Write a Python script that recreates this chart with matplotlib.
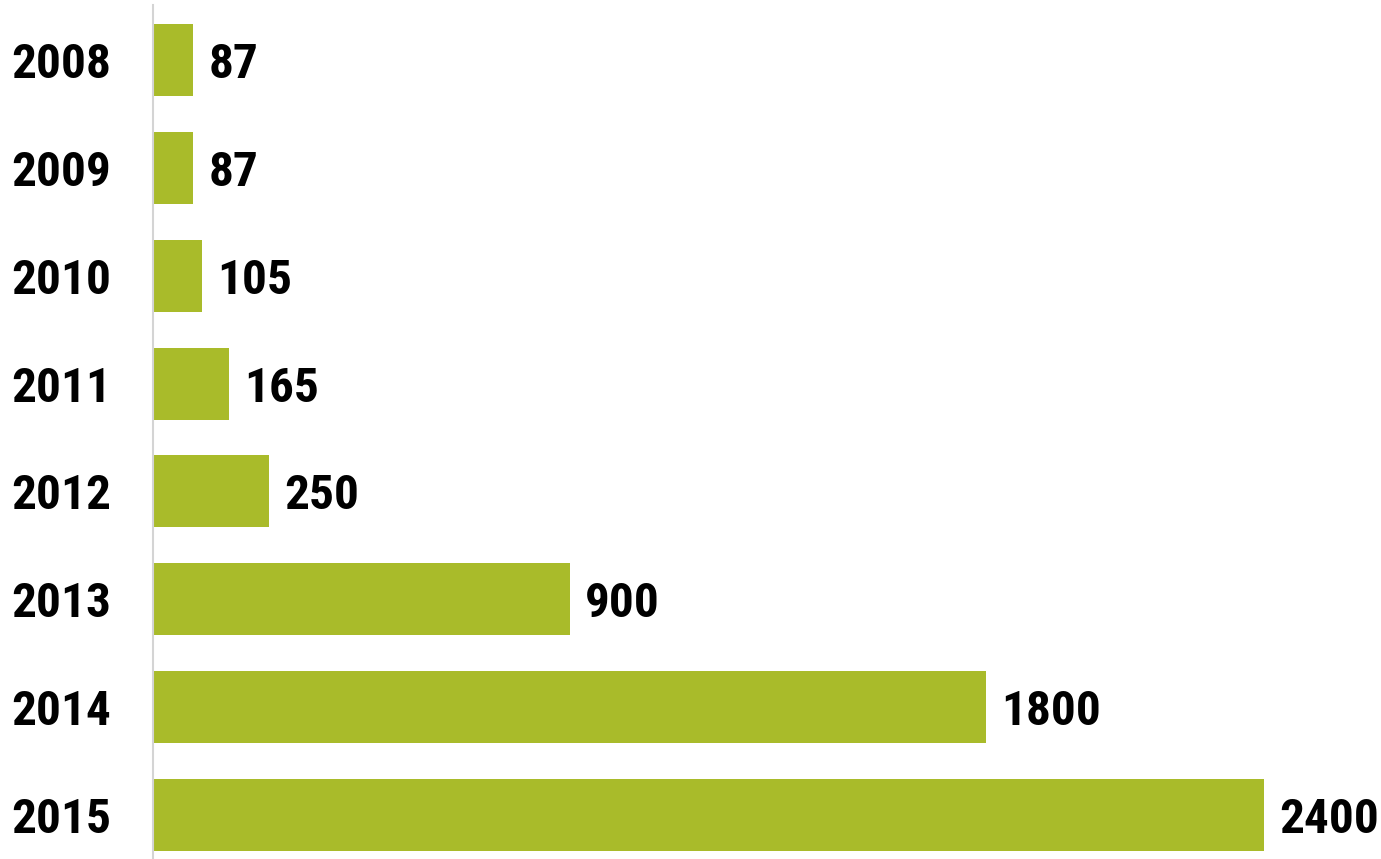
import matplotlib
matplotlib.use("Agg")
import matplotlib.pyplot as plt
from matplotlib import font_manager

years = ["2008", "2009", "2010", "2011", "2012", "2013", "2014", "2015"]
values = [87, 87, 105, 165, 250, 900, 1800, 2400]

bar_color = "#a9bb2a"

# pick a bold condensed face if one is around
installed = {f.name for f in font_manager.fontManager.ttflist}
candidates = ["Roboto Condensed", "Liberation Sans Narrow", "Archivo Narrow",
              "PT Sans Narrow", "Fira Sans Condensed", "Open Sans Condensed",
              "Barlow Condensed", "IBM Plex Sans Condensed"]
font = [c for c in candidates if c in installed][:1] + ["DejaVu Sans"]

fig = plt.figure(figsize=(13.81, 8.59), dpi=100)
ax = fig.add_axes([153 / 1381, 0, 1 - 153 / 1381, 1 - 5 / 859])

pos = list(range(len(years)))
ax.barh(pos, values, height=0.667, color=bar_color, align="center")

for p, v in zip(pos, values):
    ax.text(v + 33, p, str(v), va="center_baseline", ha="left", fontsize=35.5,
            fontweight="bold", family=font, color="black")

ax.set_xlim(0, 2653)
ax.set_ylim(7.407, -0.509)
ax.set_yticks(pos)
ax.set_yticklabels(years, fontsize=35.5, fontweight="bold", family=font)
ax.tick_params(axis="y", length=0, pad=30)
ax.set_xticks([])

for side in ["top", "right", "bottom"]:
    ax.spines[side].set_visible(False)
ax.spines["left"].set_color("#d4d4d4")
ax.spines["left"].set_linewidth(1.5)

fig.savefig("out.png", dpi=100)
